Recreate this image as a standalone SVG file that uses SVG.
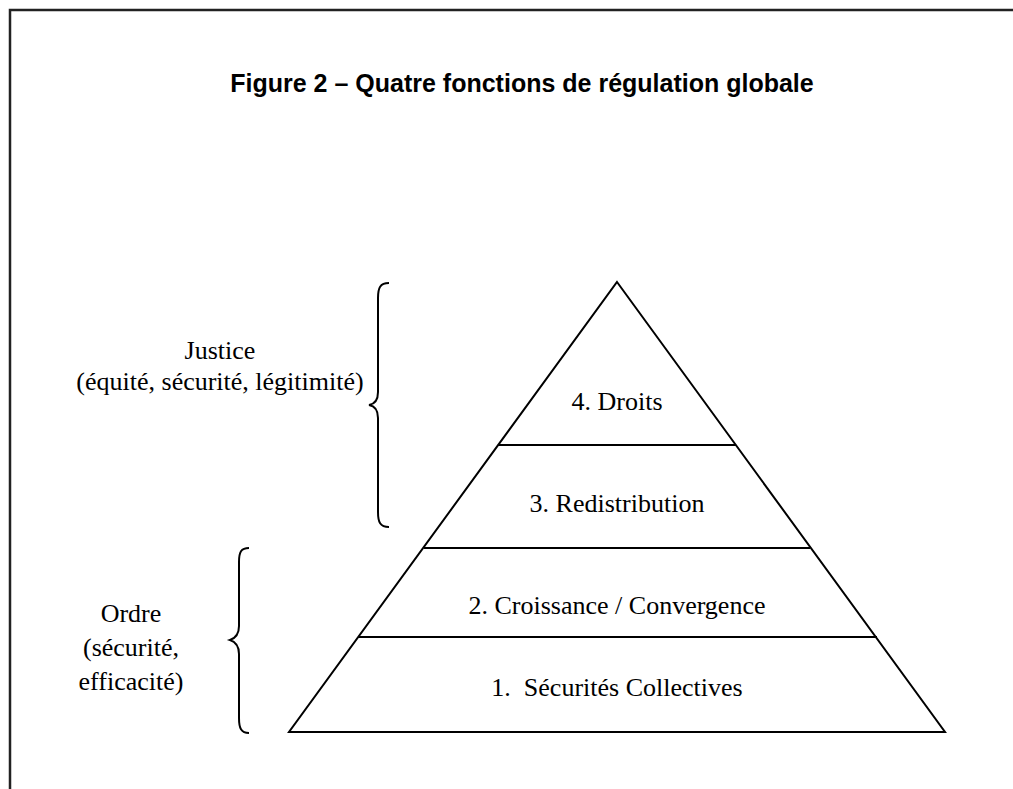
<svg xmlns="http://www.w3.org/2000/svg" width="1013" height="789" viewBox="0 0 1013 789">
<style>
.t{font-family:"Liberation Serif","Times New Roman",serif;font-size:26px;fill:#000}
.title{font-family:"Liberation Sans",Arial,sans-serif;font-size:25px;font-weight:bold;fill:#000}
.ln{stroke:#000;stroke-width:2;fill:none}
</style>
<rect width="1013" height="789" fill="#fff"/>
<path d="M10,789 V10 H1013" stroke="#222" stroke-width="2.5" fill="none"/>
<text class="title" x="522" y="92" text-anchor="middle">Figure 2 – Quatre fonctions de régulation globale</text>
<g id="pyramid">
<polygon class="ln" points="617,282 945,732 289,732"/>
</g>
<g id="connectors">
<line class="ln" x1="498" y1="445" x2="736" y2="445"/>
<line class="ln" x1="424" y1="548" x2="810" y2="548"/>
<line class="ln" x1="358" y1="637" x2="877" y2="637"/>
<path id="brace-justice" class="ln" d="M389,283 C380,283 378,288 378,298 V392 C378,400 375,404 369,405 C375,406 378,410 378,418 V512 C378,522 380,527 389,527" stroke-width="1.6"/>
<path id="brace-ordre" class="ln" d="M249,548 C241,548 239,552 239,562 V626 C239,634 236,638 230,640 C236,642 239,646 239,654 V718 C239,728 241,733 249,733" stroke-width="1.6"/>
</g>
<g id="level4"><text class="t" x="617" y="410" text-anchor="middle">4. Droits</text></g>
<g id="level3"><text class="t" x="617" y="512" text-anchor="middle">3. Redistribution</text></g>
<g id="level2"><text class="t" x="617" y="614" text-anchor="middle">2. Croissance / Convergence</text></g>
<g id="level1"><text class="t" x="617" y="696" text-anchor="middle" xml:space="preserve">1.  Sécurités Collectives</text></g>
<g id="justice">
<text class="t" x="220" y="359" text-anchor="middle">Justice</text>
<text class="t" x="220" y="390" text-anchor="middle">(équité, sécurité, légitimité)</text>
</g>
<g id="ordre">
<text class="t" x="131" y="622" text-anchor="middle">Ordre</text>
<text class="t" x="131" y="656" text-anchor="middle">(sécurité,</text>
<text class="t" x="131" y="690" text-anchor="middle">efficacité)</text>
</g>
</svg>
